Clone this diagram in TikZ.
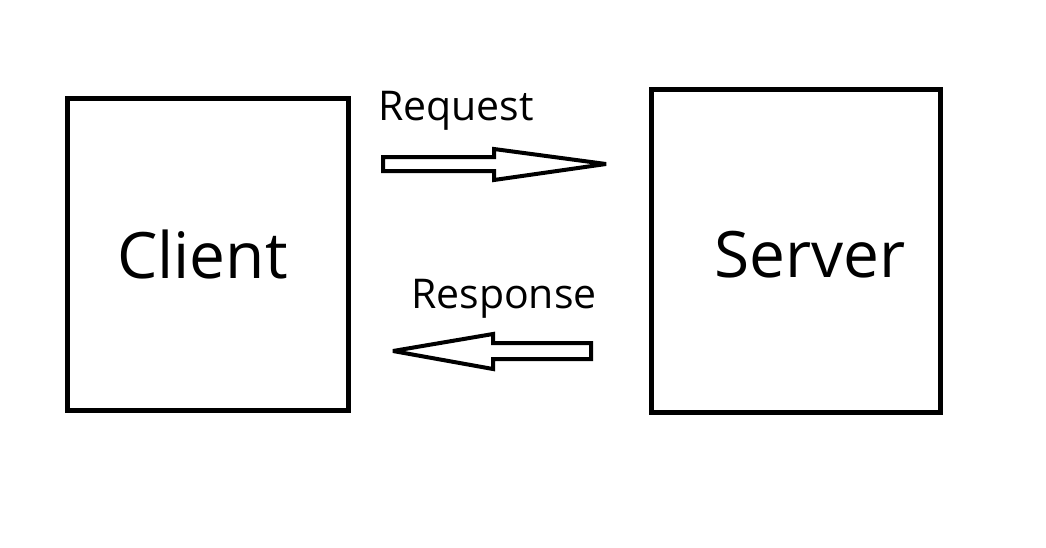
\documentclass[tikz,border=0pt]{standalone}
\usepackage{fontspec}
\newfontfamily\calfont{Open Sans}
\begin{document}
\begin{tikzpicture}[x=1pt,y=-1pt,
  boxstyle/.style={draw=black,line width=4.5pt,inner sep=0pt,outer sep=0pt},
  bigtext/.style={inner sep=0pt,anchor=base west,font=\calfont\fontsize{64}{72}\selectfont},
  smalltext/.style={inner sep=0pt,anchor=base west,font=\calfont\fontsize{41}{48}\selectfont},
  arrowshape/.style={draw=black,line width=4pt,line join=miter,miter limit=3,fill=white}]
\useasboundingbox (0,0) rectangle (1046,547);
% boxes
\node[boxstyle,minimum width=281pt,minimum height=312pt] (client) at (208,254.5) {};
\node[boxstyle,minimum width=289pt,minimum height=323pt] (server) at (796,251) {};
% labels
\node[bigtext] (clientlabel) at (117,278) {Client};
\node[bigtext] (serverlabel) at (714,277) {Server};
\node[smalltext] (reqlabel) at (378,120) {Request};
\node[smalltext] (reslabel) at (411,308) {Response};
% request arrow
\coordinate (reqtip) at (606,164);
\draw[arrowshape] (383,157) -- (494,157) -- (494,149) -- (reqtip) -- (494,180) -- (494,171) -- (383,171) -- cycle;
% response arrow
\coordinate (restip) at (393,351);
\draw[arrowshape] (591,343) -- (493,343) -- (493,334) -- (restip) -- (493,369) -- (493,359) -- (591,359) -- cycle;
\end{tikzpicture}
\end{document}
